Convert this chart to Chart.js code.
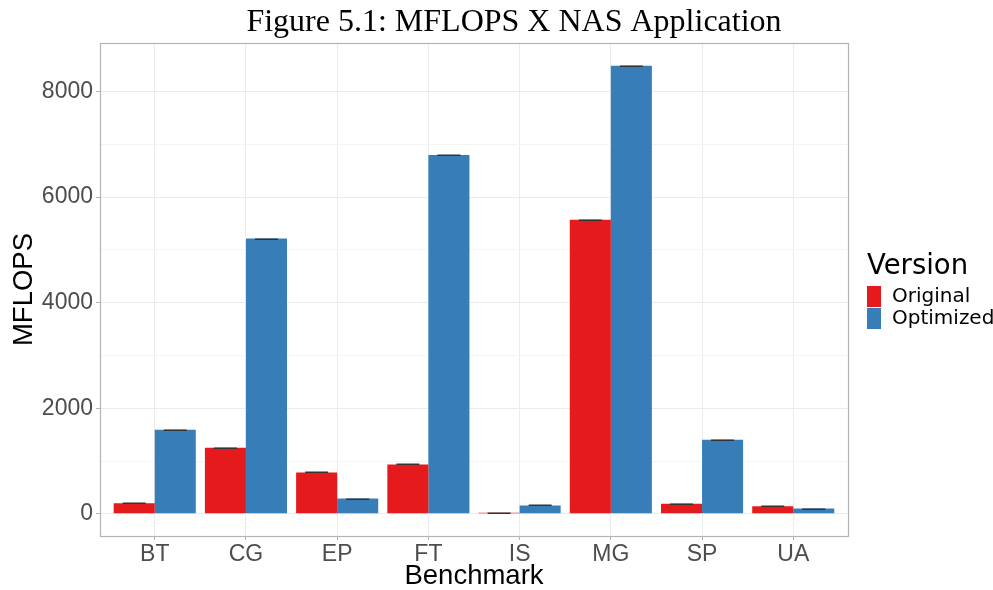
<!DOCTYPE html>
<html>
<head>
<meta charset="utf-8">
<title>MFLOPS X NAS Application</title>
<script src="https://cdn.jsdelivr.net/npm/chart.js@4/dist/chart.umd.min.js"></script>
<style>
  html, body { margin: 0; padding: 0; background: #ffffff; }
  #wrap { width: 993px; height: 590px; position: relative; }
</style>
</head>
<body>
<div id="wrap"><canvas id="chart"></canvas></div>
<script>
// NAS benchmarks and measured MFLOPS for each code version
const benchmarks = ['BT', 'CG', 'EP', 'FT', 'IS', 'MG', 'SP', 'UA'];
const original   = [200, 1250, 785, 935, 20, 5570, 190, 145];
const optimized  = [1595, 5215, 290, 6800, 160, 8490, 1405, 100];
const yTicks     = [0, 2000, 4000, 6000, 8000];
const yMinor     = [1000, 3000, 5000, 7000];
const seriesNames  = ['Original', 'Optimized'];
const seriesColors = ['#E41A1C', '#377EB8'];
const chartTitle = 'Figure 5.1: MFLOPS X NAS Application';
const xTitle = 'Benchmark';
const yTitle = 'MFLOPS';
const legendTitle = 'Version';

const PANEL_LINE = '#b3b3b3';
const GRID_MAJOR = '#ebebeb';
const GRID_MINOR = '#f4f4f4';
const AXIS_TEXT = '#4d4d4d';

// Outline around the plotting panel
const panelBorder = {
  id: 'panelBorder',
  afterDraw(chart) {
    const { ctx, chartArea: a } = chart;
    ctx.save();
    ctx.strokeStyle = PANEL_LINE;
    ctx.lineWidth = 1.2;
    ctx.strokeRect(Math.round(a.left) + 0.5, Math.round(a.top) + 0.5,
                   Math.round(a.right - a.left), Math.round(a.bottom - a.top));
    ctx.restore();
  }
};

// Small error-bar caps on top of every bar
const errorCaps = {
  id: 'errorCaps',
  afterDatasetsDraw(chart) {
    const { ctx } = chart;
    ctx.save();
    ctx.strokeStyle = '#333333';
    ctx.lineWidth = 1.5;
    chart.data.datasets.forEach((ds, di) => {
      const meta = chart.getDatasetMeta(di);
      meta.data.forEach(bar => {
        const half = bar.width * 0.28;
        const y = Math.round(bar.y) + 0.25;
        ctx.beginPath();
        ctx.moveTo(bar.x - half, y);
        ctx.lineTo(bar.x + half, y);
        ctx.stroke();
      });
    });
    ctx.restore();
  }
};

// Figure title and the "Version" legend on the right
const annotations = {
  id: 'annotations',
  afterDraw(chart) {
    const { ctx } = chart;
    ctx.save();
    ctx.fillStyle = '#000000';
    ctx.font = '32px "Liberation Serif", "Times New Roman", serif';
    ctx.textAlign = 'center';
    ctx.textBaseline = 'alphabetic';
    ctx.fillText(chartTitle, 514, 31);

    const lx = chart.chartArea.right + 19;
    ctx.textAlign = 'left';
    ctx.textBaseline = 'middle';
    ctx.font = '27.5px "DejaVu Sans", sans-serif';
    ctx.fillText(legendTitle, lx, 267);
    ctx.font = '20px "DejaVu Sans", sans-serif';
    chart.data.datasets.forEach((ds, i) => {
      const top = 286 + i * 22;
      ctx.fillStyle = ds.backgroundColor;
      ctx.fillRect(lx, top, 14, 21);
      ctx.fillStyle = '#000000';
      ctx.fillText(ds.label, lx + 25, top + 11);
    });
    ctx.restore();
  }
};

const makePoints = values => values.map((v, i) => ({ x: i, y: v }));

new Chart(document.getElementById('chart'), {
  type: 'bar',
  data: {
    datasets: [
      { label: seriesNames[0], data: makePoints(original),  backgroundColor: seriesColors[0], borderWidth: 0 },
      { label: seriesNames[1], data: makePoints(optimized), backgroundColor: seriesColors[1], borderWidth: 0 }
    ]
  },
  options: {
    responsive: true,
    maintainAspectRatio: false,
    animation: false,
    devicePixelRatio: 1,
    categoryPercentage: 0.9,
    barPercentage: 1.0,
    layout: { padding: { top: 43, right: 145, left: 0, bottom: 0 } },
    plugins: {
      legend: { display: false },
      tooltip: { enabled: false },
      title: { display: false }
    },
    scales: {
      x: {
        type: 'linear',
        offset: false,
        min: -0.6,
        max: benchmarks.length - 1 + 0.6,
        afterBuildTicks: scale => { scale.ticks = benchmarks.map((_, i) => ({ value: i })); },
        afterFit: scale => { scale.height = 54; },
        ticks: {
          autoSkip: false,
          maxRotation: 0,
          padding: 3,
          color: AXIS_TEXT,
          font: { family: '"Liberation Sans", Arial, sans-serif', size: 23, lineHeight: 1 },
          callback: v => benchmarks[v]
        },
        grid: { offset: false, color: GRID_MAJOR, lineWidth: 1, tickColor: PANEL_LINE, tickLength: 4 },
        border: { display: true, color: PANEL_LINE },
        title: {
          display: true,
          text: xTitle,
          color: '#000000',
          font: { family: '"Liberation Sans", Arial, sans-serif', size: 27.5, lineHeight: 1 },
          padding: { top: 0, bottom: 0 }
        }
      },
      y: {
        type: 'linear',
        min: -420,
        max: 8920,
        afterBuildTicks: scale => {
          scale.ticks = yTicks.concat(yMinor).sort((a, b) => a - b).map(v => ({ value: v }));
        },
        afterFit: scale => { scale.width = 100; },
        ticks: {
          padding: 3,
          color: AXIS_TEXT,
          font: { family: '"Liberation Sans", Arial, sans-serif', size: 23 },
          callback: v => (yTicks.includes(v) ? String(v) : '')
        },
        grid: {
          color: ctx => (yTicks.includes(ctx.tick.value) ? GRID_MAJOR : GRID_MINOR),
          lineWidth: 1,
          tickColor: ctx => (yTicks.includes(ctx.tick.value) ? PANEL_LINE : 'rgba(0,0,0,0)'),
          tickLength: 4
        },
        border: { display: true, color: PANEL_LINE },
        title: {
          display: true,
          text: yTitle,
          color: '#000000',
          font: { family: '"Liberation Sans", Arial, sans-serif', size: 27.5, lineHeight: 1 },
          padding: { top: 11, bottom: 0 }
        }
      }
    }
  },
  plugins: [panelBorder, errorCaps, annotations]
});
</script>
</body>
</html>
